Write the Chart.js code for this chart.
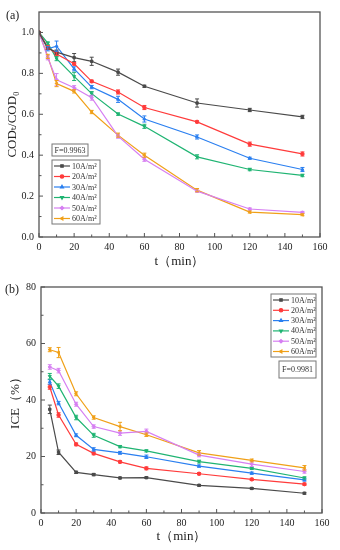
<!DOCTYPE html>
<html>
<head>
<meta charset="utf-8">
<script src="https://cdn.jsdelivr.net/npm/chart.js@4"></script>
<style>
  html, body { margin: 0; padding: 0; background: #fff; }
  .box { position: absolute; left: 0; width: 340px; height: 275px; }
</style>
</head>
<body>
<div class="box" style="top:0"><canvas id="chartA"></canvas></div>
<div class="box" style="top:275px"><canvas id="chartB"></canvas></div>
<script>
// --- data ---
const timesA = [0, 5, 10, 20, 30, 45, 60, 90, 120, 150];
const timesB = [5, 10, 20, 30, 45, 60, 90, 120, 150];
const seriesNames = ['10A/m²', '20A/m²', '30A/m²', '40A/m²', '50A/m²', '60A/m²'];

// (a) COD_t / COD_0
const cod10 = [1.0, 0.923, 0.904, 0.877, 0.859, 0.806, 0.737, 0.655, 0.621, 0.587];
const cod20 = [1.0, 0.927, 0.895, 0.847, 0.761, 0.709, 0.633, 0.563, 0.454, 0.406];
const cod30 = [1.0, 0.920, 0.933, 0.822, 0.733, 0.673, 0.577, 0.489, 0.385, 0.330];
const cod40 = [1.0, 0.948, 0.872, 0.785, 0.701, 0.601, 0.541, 0.392, 0.330, 0.301];
const cod50 = [1.0, 0.876, 0.769, 0.730, 0.681, 0.493, 0.380, 0.224, 0.137, 0.120];
const cod60 = [1.0, 0.883, 0.750, 0.712, 0.611, 0.498, 0.400, 0.229, 0.122, 0.109];
const codErr10 = [0, 0.006, 0.01, 0.02, 0.02, 0.015, 0.005, 0.02, 0.008, 0.008];
const codErr20 = [0, 0.008, 0.01, 0.006, 0.006, 0.01, 0.01, 0.005, 0.01, 0.01];
const codErr30 = [0, 0.01, 0.025, 0.01, 0.008, 0.015, 0.015, 0.01, 0.005, 0.01];
const codErr40 = [0, 0.006, 0.01, 0.02, 0.01, 0.006, 0.01, 0.01, 0.006, 0.006];
const codErr50 = [0, 0.01, 0.03, 0.01, 0.012, 0.01, 0.01, 0.005, 0.005, 0.005];
const codErr60 = [0, 0.01, 0.015, 0.008, 0.008, 0.01, 0.01, 0.008, 0.005, 0.005];

// (b) ICE (%)
const ice10 = [36.7, 21.5, 14.4, 13.6, 12.4, 12.5, 9.8, 8.7, 7.0];
const ice20 = [44.6, 34.7, 24.3, 21.1, 18.1, 15.8, 13.9, 11.9, 10.2];
const ice30 = [46.4, 38.9, 27.5, 22.5, 21.3, 19.9, 16.6, 14.1, 11.7];
const ice40 = [48.4, 44.9, 33.8, 27.5, 23.5, 22.0, 18.2, 15.8, 12.4];
const ice50 = [51.7, 50.4, 38.5, 30.6, 28.3, 28.9, 20.5, 17.3, 14.7];
const ice60 = [57.8, 56.8, 42.2, 33.8, 30.6, 27.7, 21.3, 18.6, 16.0];
const iceErr10 = [1.5, 0.8, 0.4, 0.4, 0.3, 0.3, 0.3, 0.3, 0.3];
const iceErr20 = [0.8, 0.8, 0.5, 0.5, 0.4, 0.5, 0.4, 0.4, 0.4];
const iceErr30 = [0.8, 0.6, 0.5, 0.6, 0.5, 0.6, 0.4, 0.4, 0.4];
const iceErr40 = [1.0, 0.8, 0.8, 0.7, 0.4, 0.4, 0.5, 0.4, 0.4];
const iceErr50 = [0.8, 0.8, 0.7, 0.6, 0.8, 0.8, 0.6, 0.8, 0.6];
const iceErr60 = [0.7, 1.8, 0.7, 0.6, 1.5, 0.6, 0.8, 0.5, 0.8];

// tick labels
const xTicks = [0, 20, 40, 60, 80, 100, 120, 140, 160];
const yTicksA = [0, 0.2, 0.4, 0.6, 0.8, 1.0];
const yTicksB = [0, 20, 40, 60, 80];

// --- styles ---
const colors = ['#4a4a4a', '#ff3b3b', '#2a7ff0', '#1fb472', '#d67ff2', '#f0a018'];
const markers = ['rect', 'circle', 'triangle', 'triangle', 'rectRot', 'triangle'];
const rotations = [0, 0, 0, 180, 0, -90];
const serif = "'Liberation Serif', 'DejaVu Serif', serif";

Chart.defaults.font.family = serif;
Chart.defaults.color = '#222';

function makeDatasets(xs, ys, errs) {
  return ys.map((vals, k) => ({
    label: seriesNames[k],
    data: xs.map((x, i) => ({ x: x, y: vals[i] })),
    errors: errs[k],
    borderColor: colors[k],
    backgroundColor: colors[k],
    borderWidth: 1.2,
    pointStyle: markers[k],
    pointRotation: rotations[k],
    pointRadius: 1.7,
    pointBorderWidth: 1,
    tension: 0
  }));
}

// frame + inward ticks
const framePlugin = {
  id: 'frame',
  afterDraw(chart) {
    const { ctx, chartArea: a, scales } = chart;
    ctx.save();
    ctx.strokeStyle = '#555';
    ctx.lineWidth = 1.3;
    ctx.strokeRect(a.left, a.top, a.right - a.left, a.bottom - a.top);
    ctx.lineWidth = 1;
    ['x', 'y'].forEach(id => {
      const s = scales[id];
      const vals = s.ticks.map(t => t.value);
      vals.forEach((v, i) => {
        const marks = [[v, 4]];
        if (i < vals.length - 1) marks.push([(v + vals[i + 1]) / 2, 2.5]);
        marks.forEach(([mv, len]) => {
          const p = s.getPixelForValue(mv);
          ctx.beginPath();
          if (id === 'x') { ctx.moveTo(p, a.bottom); ctx.lineTo(p, a.bottom - len); }
          else { ctx.moveTo(a.left, p); ctx.lineTo(a.left + len, p); }
          ctx.stroke();
        });
      });
    });
    ctx.restore();
  }
};

// error bars
const errorPlugin = {
  id: 'errbars',
  afterDatasetsDraw(chart) {
    const { ctx, scales: { x, y } } = chart;
    ctx.save();
    ctx.lineWidth = 1;
    chart.data.datasets.forEach(ds => {
      ctx.strokeStyle = ds.borderColor;
      ds.data.forEach((p, i) => {
        const e = ds.errors[i];
        if (!e) return;
        const px = x.getPixelForValue(p.x);
        const y1 = y.getPixelForValue(p.y - e);
        const y2 = y.getPixelForValue(p.y + e);
        ctx.beginPath();
        ctx.moveTo(px, y1); ctx.lineTo(px, y2);
        ctx.moveTo(px - 2, y1); ctx.lineTo(px + 2, y1);
        ctx.moveTo(px - 2, y2); ctx.lineTo(px + 2, y2);
        ctx.stroke();
      });
    });
    ctx.restore();
  }
};

// boxed legend, F label and panel tag
const notesPlugin = {
  id: 'notes',
  afterDraw(chart, args, opts) {
    const ctx = chart.ctx;
    ctx.save();
    ctx.strokeStyle = '#777';
    ctx.lineWidth = 1;
    // legend
    const L = opts.legend;
    ctx.strokeRect(L.x, L.y, L.w, L.h);
    ctx.font = '8px ' + serif;
    ctx.textBaseline = 'middle';
    chart.data.datasets.forEach((ds, k) => {
      const ry = L.y + L.first + k * L.step;
      ctx.strokeStyle = ds.borderColor;
      ctx.lineWidth = 1.2;
      ctx.beginPath();
      ctx.moveTo(L.x + 2, ry); ctx.lineTo(L.x + 18, ry);
      ctx.stroke();
      ctx.fillStyle = ds.backgroundColor;
      Chart.helpers.drawPoint(ctx, {
        pointStyle: ds.pointStyle, rotation: ds.pointRotation,
        radius: 1.7, borderWidth: 1
      }, L.x + 10, ry);
      ctx.fillStyle = '#333';
      ctx.fillText(ds.label, L.x + 20, ry + 0.5);
    });
    // F box
    const F = opts.fbox;
    ctx.strokeStyle = '#777';
    ctx.lineWidth = 1;
    ctx.strokeRect(F.x, F.y, F.w, F.h);
    ctx.fillStyle = '#333';
    ctx.textAlign = 'center';
    ctx.fillText(F.text, F.x + F.w / 2, F.y + F.h / 2 + 0.5);
    // panel tag
    ctx.font = '12px ' + serif;
    ctx.textAlign = 'left';
    ctx.fillStyle = '#222';
    ctx.fillText(opts.tag.text, opts.tag.x, opts.tag.y);
    ctx.restore();
  }
};

function makeOptions(cfg) {
  return {
    responsive: true,
    maintainAspectRatio: false,
    animation: false,
    layout: { padding: { top: 12, right: cfg.right, left: 0, bottom: 0 } },
    scales: {
      x: {
        type: 'linear', min: 0, max: 160,
        grid: { display: false, drawTicks: false },
        border: { display: false },
        ticks: { padding: 4, font: { size: 10 } },
        afterBuildTicks: s => { s.ticks = xTicks.map(v => ({ value: v })); },
        afterFit: s => { s.height = cfg.xHeight; },
        title: { display: true, text: 't（min）', font: { size: 13 }, padding: { top: 0, bottom: 6 } }
      },
      y: {
        type: 'linear', min: cfg.yMin, max: cfg.yMax,
        grid: { display: false, drawTicks: false },
        border: { display: false },
        ticks: { padding: 5, font: { size: 10 }, callback: cfg.fmt },
        afterBuildTicks: s => { s.ticks = cfg.yTicks.map(v => ({ value: v })); },
        afterFit: s => { s.width = cfg.yWidth; },
        title: { display: true, text: cfg.yTitle, font: { size: 13 }, padding: { top: cfg.titlePad, bottom: 0 } }
      }
    },
    plugins: {
      legend: { display: false },
      tooltip: { enabled: false },
      notes: cfg.notes
    }
  };
}

new Chart(document.getElementById('chartA'), {
  type: 'line',
  data: {
    datasets: makeDatasets(timesA,
      [cod10, cod20, cod30, cod40, cod50, cod60],
      [codErr10, codErr20, codErr30, codErr40, codErr50, codErr60])
  },
  options: makeOptions({
    right: 20, xHeight: 38, yWidth: 39, yMin: 0, yMax: 1.1, yTicks: yTicksA,
    fmt: v => v.toFixed(1), yTitle: 'CODₜ/COD₀', titlePad: 5,
    notes: {
      legend: { x: 52, y: 160, w: 48, h: 64, first: 6, step: 10.5 },
      fbox: { x: 52, y: 144, w: 36, h: 12, text: 'F=0.9963' },
      tag: { text: '(a)', x: 6, y: 16 }
    }
  }),
  plugins: [framePlugin, errorPlugin, notesPlugin]
});

new Chart(document.getElementById('chartB'), {
  type: 'line',
  data: {
    datasets: makeDatasets(timesB,
      [ice10, ice20, ice30, ice40, ice50, ice60],
      [iceErr10, iceErr20, iceErr30, iceErr40, iceErr50, iceErr60])
  },
  options: makeOptions({
    right: 18, xHeight: 37, yWidth: 41, yMin: 0, yMax: 80, yTicks: yTicksB,
    fmt: v => String(v), yTitle: 'ICE（%）', titlePad: 8,
    notes: {
      legend: { x: 271, y: 19, w: 45, h: 63, first: 6, step: 10.3 },
      fbox: { x: 279, y: 86, w: 37, h: 17, text: 'F=0.9981' },
      tag: { text: '(b)', x: 5, y: 15 }
    }
  }),
  plugins: [framePlugin, errorPlugin, notesPlugin]
});
</script>
</body>
</html>
